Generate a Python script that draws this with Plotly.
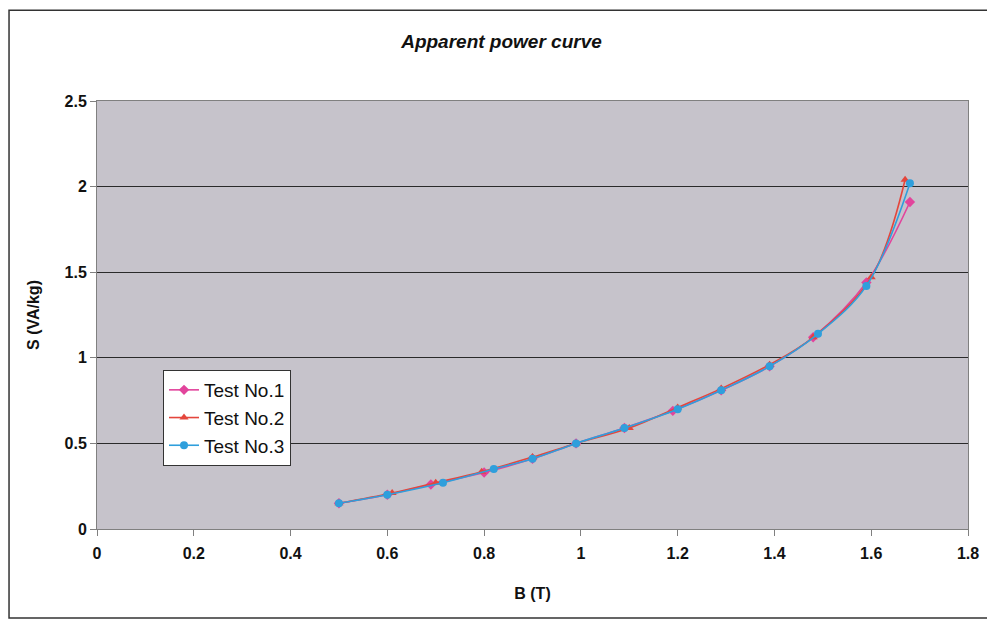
import plotly.graph_objects as go

# Data
b_test1 = [0.50, 0.60, 0.69, 0.80, 0.90, 0.99, 1.09, 1.19, 1.29, 1.39, 1.48, 1.59, 1.68]
s_test1 = [0.15, 0.20, 0.26, 0.33, 0.41, 0.50, 0.59, 0.69, 0.81, 0.95, 1.12, 1.44, 1.91]

b_test2 = [0.50, 0.61, 0.70, 0.795, 0.90, 0.99, 1.10, 1.20, 1.29, 1.39, 1.48, 1.60, 1.67]
s_test2 = [0.15, 0.21, 0.27, 0.335, 0.42, 0.50, 0.59, 0.71, 0.82, 0.96, 1.12, 1.47, 2.04]

b_test3 = [0.50, 0.60, 0.715, 0.82, 0.90, 0.99, 1.09, 1.20, 1.29, 1.39, 1.49, 1.59, 1.68]
s_test3 = [0.15, 0.20, 0.27, 0.35, 0.41, 0.50, 0.59, 0.70, 0.81, 0.95, 1.14, 1.42, 2.02]

x_ticks = [0, 0.2, 0.4, 0.6, 0.8, 1, 1.2, 1.4, 1.6, 1.8]
x_tick_labels = ["0", "0.2", "0.4", "0.6", "0.8", "1", "1.2", "1.4", "1.6", "1.8"]
y_ticks = [0, 0.5, 1, 1.5, 2, 2.5]
y_tick_labels = ["0", "0.5", "1", "1.5", "2", "2.5"]

FONT = "Liberation Sans, Arial, sans-serif"

fig = go.Figure()
fig.add_trace(go.Scatter(
    x=b_test1, y=s_test1, name="Test No.1", mode="lines+markers",
    line=dict(color="#e2449c", width=1.6, shape="spline"),
    marker=dict(symbol="diamond", size=8, color="#e2449c"),
))
fig.add_trace(go.Scatter(
    x=b_test2, y=s_test2, name="Test No.2", mode="lines+markers",
    line=dict(color="#e4463c", width=1.6, shape="spline"),
    marker=dict(symbol="triangle-up", size=8, color="#e4463c"),
))
fig.add_trace(go.Scatter(
    x=b_test3, y=s_test3, name="Test No.3", mode="lines+markers",
    line=dict(color="#2f9fdc", width=1.6, shape="spline"),
    marker=dict(symbol="circle", size=8, color="#2f9fdc"),
))

# The page places the figure at an 8px offset, so the figure is sized to fit.
fig.update_layout(
    width=987, height=614,
    margin=dict(l=89, r=27, t=93, b=93),
    paper_bgcolor="white",
    plot_bgcolor="#c6c3cb",
    font=dict(family=FONT, color="#111111"),
    title=dict(
        text="<b><i>Apparent power curve</i></b>",
        x=0.5, xanchor="center", y=0.945, yanchor="middle",
        font=dict(size=19, family=FONT, color="#111111"),
    ),
    showlegend=True,
    legend=dict(
        x=0.0758, y=0.3715, xanchor="left", yanchor="top",
        bgcolor="white", bordercolor="#333333", borderwidth=1,
        font=dict(size=19, family=FONT, color="#111111"),
        tracegroupgap=0,
    ),
    xaxis=dict(
        range=[0, 1.8], tickvals=x_ticks, ticktext=x_tick_labels,
        showgrid=False, zeroline=False,
        showline=True, linecolor="#808080", linewidth=1, mirror=True,
        ticks="outside", ticklen=6, tickcolor="#808080", ticklabelstandoff=4,
        tickfont=dict(size=16, family=FONT, color="#111111", weight="bold"),
        title=dict(text="<b>B (T)</b>", font=dict(size=16, family=FONT), standoff=26),
    ),
    yaxis=dict(
        range=[0, 2.5], tickvals=y_ticks, ticktext=y_tick_labels,
        showgrid=True, gridcolor="#2a2a2a", gridwidth=1.4, zeroline=False,
        showline=True, linecolor="#808080", linewidth=1, mirror=True,
        ticks="outside", ticklen=6, tickcolor="#808080",
        tickfont=dict(size=16, family=FONT, color="#111111", weight="bold"),
        title=dict(text="<b>S (VA/kg)</b>", font=dict(size=16, family=FONT), standoff=20),
    ),
    shapes=[dict(
        type="rect", xref="paper", yref="paper",
        x0=-0.1010, x1=1.0240, y0=-0.2080, y1=1.2120,
        line=dict(color="#333333", width=1.5), fillcolor="rgba(0,0,0,0)",
        layer="below",
    )],
)

fig.write_html("out.html")
